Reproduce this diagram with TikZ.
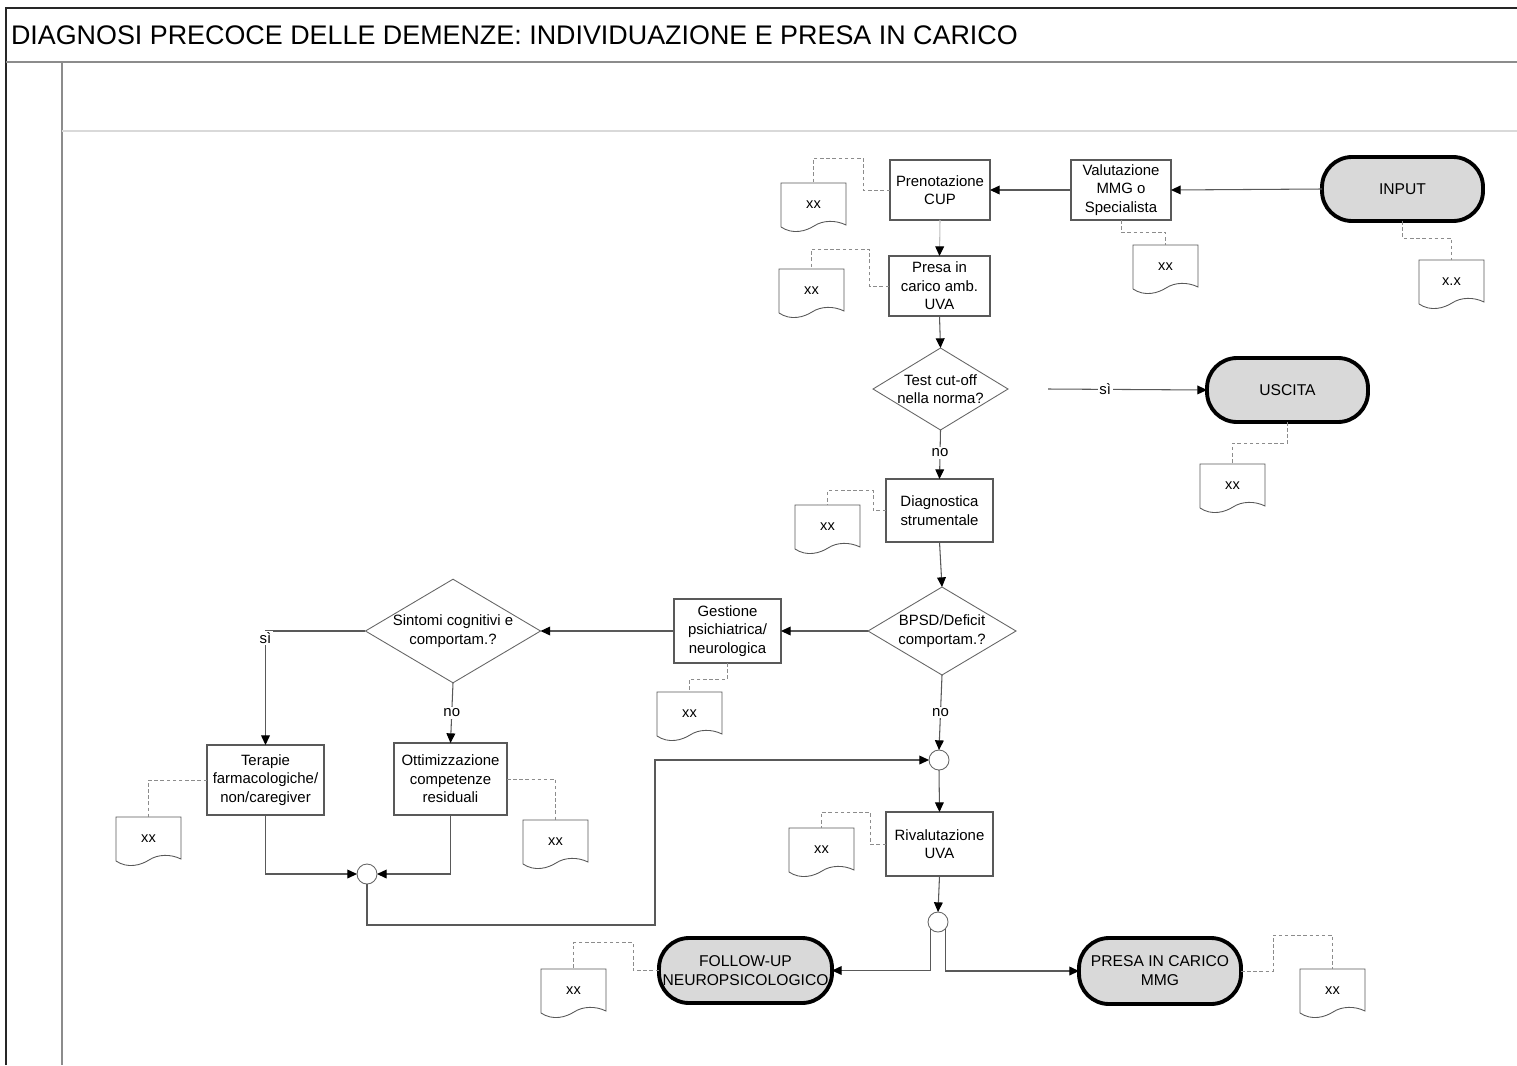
\documentclass[tikz,border=0pt]{standalone}
\usepackage{fontspec}
\setmainfont{Liberation Sans}
\usetikzlibrary{shapes.geometric,arrows.meta,calc}
\newcommand\docnode[4]{% name, x0, y0 (top-left), text
  \begin{scope}[shift={(#2,#3)}]
    \draw[docline] (0,44) -- (0,0) -- (65,0) -- (65,42) .. controls (55,37) and (42,37) .. (33,43) .. controls (25,48) and (12,52) .. (0,44);
    \node[doctext] (#1) at (32.5,22) {#4};
  \end{scope}
}
\begin{document}
\begin{tikzpicture}[x=0.02cm,y=-0.02cm,
  every node/.style={outer sep=0pt},
  txt/.style={font=\fontsize{8.5}{10.5}\selectfont},
  proc/.style={txt, draw=black!65, line width=0.6pt, fill=white, align=center, inner sep=1pt},
  term/.style={font=\fontsize{8.9}{10.8}\selectfont, draw=black, line width=2.2pt, fill=black!15, rounded corners=0.6cm, align=center, inner sep=0pt},
  dec/.style={txt, diamond, draw=black!60, line width=0.5pt, fill=white, align=center, inner sep=0pt},
  junc/.style={circle, draw=black!60, line width=0.5pt, fill=white, minimum size=0.4cm, inner sep=0pt},
  doctext/.style={font=\fontsize{8.3}{10}\selectfont, minimum width=1.3cm, minimum height=0.88cm, inner sep=0pt},
  docline/.style={draw=black!65, line width=0.5pt, fill=white},
  flow/.style={draw=black!65, line width=0.6pt, -{Triangle[length=5.5pt,width=5pt,color=black]}},
  dashlink/.style={draw=black!45, line width=0.5pt, dash pattern=on 2pt off 1.5pt},
  lbl/.style={txt, fill=white, inner sep=1pt}
]
\useasboundingbox (0,0) rectangle (1517,1065);
% frame
\draw[black!85, line width=1.6pt] (6,1065) -- (6,8) -- (1517,8);
\draw[black!45, line width=1.4pt] (6,62) -- (1517,62);
\draw[black!45, line width=1.1pt] (62,62) -- (62,1065);
\draw[black!15, line width=0.6pt] (62,131) -- (1517,131);
\node[anchor=west, font=\fontsize{15.3}{17}\selectfont, inner sep=0pt] (title) at (11,35) {DIAGNOSI PRECOCE DELLE DEMENZE: INDIVIDUAZIONE E PRESA IN CARICO};

% terminators
\node[term, minimum width=3.22cm, minimum height=1.28cm] (input) at (1402.5,189) {INPUT};
\node[term, minimum width=3.22cm, minimum height=1.28cm] (uscita) at (1287.5,390) {USCITA};
\node[term, minimum width=3.46cm, minimum height=1.3cm] (follow) at (745.5,970.5) {FOLLOW-UP\\NEUROPSICOLOGICO};
\node[term, minimum width=3.24cm, minimum height=1.32cm] (presammg) at (1160,971) {PRESA IN CARICO\\MMG};

% processes
\node[proc, minimum width=2cm, minimum height=1.2cm] (val) at (1121,190) {Valutazione\\MMG o\\Specialista};
\node[proc, minimum width=2cm, minimum height=1.2cm] (pren) at (940,190) {Prenotazione\\CUP};
\node[proc, minimum width=2.02cm, minimum height=1.2cm] (presa) at (939.5,286) {Presa in\\carico amb.\\UVA};
\node[proc, minimum width=2.14cm, minimum height=1.26cm] (diag) at (939.5,510.5) {Diagnostica\\strumentale};
\node[proc, minimum width=2.14cm, minimum height=1.28cm] (gest) at (727.5,631) {Gestione\\psichiatrica/\\neurologica};
\node[proc, minimum width=2.34cm, minimum height=1.4cm] (terap) at (265.5,780) {Terapie\\farmacologiche/\\non/caregiver};
\node[proc, minimum width=2.26cm, minimum height=1.44cm] (ottim) at (450.5,779) {Ottimizzazione\\competenze\\residuali};
\node[proc, minimum width=2.14cm, minimum height=1.28cm] (rival) at (939.5,844) {Rivalutazione\\UVA};

% decisions
\node[dec, minimum width=2.7cm, minimum height=1.64cm, aspect=1.65] (test) at (940.5,389) {Test cut-off\\nella norma?};
\node[dec, minimum width=2.96cm, minimum height=1.76cm, aspect=1.68] (bpsd) at (942,631) {BPSD/Deficit\\comportam.?};
\node[dec, minimum width=3.44cm, minimum height=2.04cm, aspect=1.69] (sint) at (453,631) {Sintomi cognitivi e\\comportam.?};

% junctions
\node[junc] (c1) at (367,874) {};
\node[junc] (c2) at (939,760) {};
\node[junc] (c3) at (938,922) {};

% documents
\docnode{dinput}{1419}{260}{x.x}
\docnode{dval}{1133}{245}{xx}
\docnode{dpren}{781}{183}{xx}
\docnode{dpresa}{779}{269}{xx}
\docnode{dusc}{1200}{464}{xx}
\docnode{ddiag}{795}{505}{xx}
\docnode{dgest}{657}{692}{xx}
\docnode{dterap}{116}{817}{xx}
\docnode{dottim}{523}{820}{xx}
\docnode{drival}{789}{828}{xx}
\docnode{dfollow}{541}{969}{xx}
\docnode{dmmg}{1300}{969}{xx}

% dashed links to documents
\draw[dashlink] (input.south) -- ++(0,17) -| (dinput.north);
\draw[dashlink] (val.south) -- ++(0,12) -| (dval.north);
\draw[dashlink] (pren.west) -- ++(-27,0) -- ++(0,-32) -| (dpren.north);
\draw[dashlink] (presa.west) -- ++(-20,0) -- ++(0,-37) -| (dpresa.north);
\draw[dashlink] (uscita.south) -- ++(0,21) -| (dusc.north);
\draw[dashlink] (diag.west) -- ++(-13,0) -- ++(0,-20) -| (ddiag.north);
\draw[dashlink] (gest.south) -- ++(0,16) -| (dgest.north);
\draw[dashlink] (terap.west) -| (dterap.north);
\draw[dashlink] (ottim.east) -| (dottim.north);
\draw[dashlink] (rival.west) -- ++(-16,0) -- ++(0,-32) -| (drival.north);
\draw[dashlink] (follow.west) -- ++(-26,0) -- ++(0,-28) -| (dfollow.north);
\draw[dashlink] (presammg.east) -- ++(32,0) -- ++(0,-36) -| (dmmg.north);

% flow connectors
\draw[flow] (input.west) -- (val.east);
\draw[flow] (val.west) -- (pren.east);
\draw[flow, draw=black!25] (pren.south) -- (presa.north);
\draw[flow] (presa.south) -- (test.north);
\coordinate (sistart) at (1048,389);
\draw[flow] (sistart) -- node[lbl, pos=0.36] {sì} (uscita.west);
\draw[flow] (test.south) -- node[lbl, pos=0.47] {no} (diag.north);
\draw[flow] (diag.south) -- (bpsd.north);
\draw[flow] (bpsd.west) -- (gest.east);
\draw[flow] (gest.west) -- (sint.east);
\draw[flow] (sint.west) -| node[lbl, pos=0.53] {sì} (terap.north);
\draw[flow] (sint.south) -- node[lbl, pos=0.5] {no} (ottim.north);
\draw[flow] (terap.south) |- (c1.west);
\draw[flow] (ottim.south) |- (c1.east);
\draw[flow] (c1.south) |- (655,925) |- (c2.west);
\draw[flow] (bpsd.south) -- node[lbl, pos=0.5] {no} (c2.north);
\draw[flow] (c2.south) -- (rival.north);
\draw[flow] (rival.south) -- (c3.north);
\draw[flow] (c3.south west) |- (follow.east);
\draw[flow] (c3.south east) |- (presammg.west);
\end{tikzpicture}
\end{document}
